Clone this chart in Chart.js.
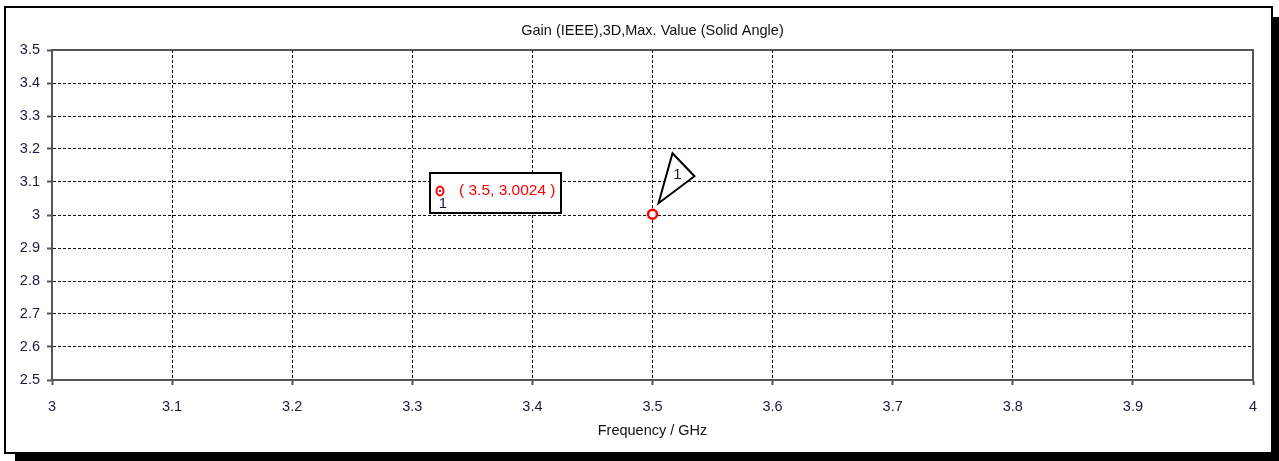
<!DOCTYPE html>
<html>
<head>
<meta charset="utf-8">
<script src="https://cdn.jsdelivr.net/npm/chart.js@4/dist/chart.umd.min.js"></script>
<style>
html,body{margin:0;padding:0;background:#fff;overflow:hidden;}
#wrap{position:absolute;left:0;top:0;width:1279px;height:461px;}
</style>
</head>
<body>
<div id="wrap"><canvas id="c" width="1279" height="461"></canvas></div>
<script>
const chartTitle = 'Gain (IEEE),3D,Max. Value (Solid Angle)';
const xAxisTitle = 'Frequency / GHz';
const frequencies = [3.5];
const gainValues = [3.0024];
const markerLabels = ['1'];
const xTicks = [3, 3.1, 3.2, 3.3, 3.4, 3.5, 3.6, 3.7, 3.8, 3.9, 4];
const yTicks = [2.5, 2.6, 2.7, 2.8, 2.9, 3, 3.1, 3.2, 3.3, 3.4, 3.5];

const FONT = 'Liberation Sans';
const points = frequencies.map((f, i) => ({x: f, y: gainValues[i]}));

const framePlugin = {
  id: 'frame',
  beforeDraw(chart) {
    const ctx = chart.ctx;
    ctx.save();
    ctx.fillStyle = '#fff';
    ctx.fillRect(0, 0, chart.width, chart.height);
    // shadow
    ctx.fillStyle = '#000';
    ctx.fillRect(1273, 17, 6, 444);
    ctx.fillRect(15, 454, 1264, 7);
    // frame
    ctx.strokeStyle = '#000';
    ctx.lineWidth = 2;
    ctx.strokeRect(5, 7, 1267, 446);
    ctx.restore();
  },
  beforeDatasetsDraw(chart) {
    const {ctx, chartArea: a} = chart;
    ctx.save();
    ctx.strokeStyle = '#555';
    ctx.lineWidth = 2;
    ctx.beginPath();
    ctx.moveTo(a.left, a.top); ctx.lineTo(a.right, a.top); ctx.lineTo(a.right, a.bottom);
    ctx.stroke();
    ctx.restore();
  },
  afterDatasetsDraw(chart) {
    const {ctx} = chart;
    const xs = chart.scales.x, ys = chart.scales.y;
    ctx.save();
    points.forEach((p, i) => {
      const px = xs.getPixelForValue(p.x);
      const py = ys.getPixelForValue(p.y);
      // triangle marker
      ctx.strokeStyle = '#000';
      ctx.lineWidth = 2;
      ctx.fillStyle = '#fff';
      ctx.beginPath();
      ctx.moveTo(px + 6, py - 11);
      ctx.lineTo(px + 20, py - 61);
      ctx.lineTo(px + 42, py - 38);
      ctx.closePath();
      ctx.fill();
      ctx.stroke();
      ctx.fillStyle = '#1a1a40';
      ctx.font = '15px "' + FONT + '"';
      ctx.textAlign = 'center';
      ctx.textBaseline = 'middle';
      ctx.fillText(markerLabels[i], px + 25, py - 39);
      // label box
      const bx = 430, by = 173, bw = 131, bh = 40;
      ctx.fillStyle = '#fff';
      ctx.fillRect(bx, by, bw, bh);
      ctx.lineWidth = 2;
      ctx.strokeStyle = '#000';
      ctx.strokeRect(bx, by, bw, bh);
      // small marker
      ctx.strokeStyle = '#f00';
      ctx.lineWidth = 2;
      ctx.beginPath();
      ctx.ellipse(bx + 10, by + 18, 3.5, 4.5, 0, 0, Math.PI * 2);
      ctx.stroke();
      ctx.fillStyle = '#f00';
      ctx.fillRect(bx + 9, by + 17, 2, 2);
      ctx.fillStyle = '#1a1a40';
      ctx.font = '15px "' + FONT + '"';
      ctx.fillText(markerLabels[i], bx + 13, by + 31);
      ctx.fillStyle = '#f00';
      ctx.textAlign = 'left';
      ctx.font = '15.5px "' + FONT + '"';
      ctx.fillText('( ' + p.x + ', ' + p.y.toFixed(4) + ' )', bx + 29, by + 18);
    });
    ctx.restore();
  }
};

new Chart(document.getElementById('c'), {
  type: 'scatter',
  data: {
    datasets: [{
      data: points,
      pointStyle: 'circle',
      pointRadius: 4.5,
      pointBorderWidth: 2.5,
      pointBorderColor: '#f00',
      pointBackgroundColor: '#fff'
    }, {
      data: points,
      pointStyle: 'circle',
      pointRadius: 1.3,
      pointBorderWidth: 0,
      pointBackgroundColor: '#f00'
    }]
  },
  options: {
    responsive: false,
    animation: false,
    devicePixelRatio: 1,
    layout: {padding: {left: 0, right: 26, top: 0, bottom: 0}},
    plugins: {
      legend: {display: false},
      tooltip: {enabled: false},
      title: {
        display: true,
        fullSize: false,
        text: chartTitle,
        color: '#111',
        font: {family: FONT, size: 14.5, weight: 'normal', lineHeight: 1.2},
        padding: {top: 22, bottom: 10.6}
      }
    },
    scales: {
      x: {
        type: 'linear',
        min: 3, max: 4,
        afterBuildTicks: s => { s.ticks = xTicks.map(v => ({value: v})); },
        afterFit: s => { s.height = 81; },
        ticks: {
          color: '#1a1a40',
          font: {family: FONT, size: 14.5},
          padding: 13,
          maxRotation: 0,
          autoSkip: false,
          callback: v => String(Math.round(v * 10) / 10)
        },
        grid: {color: '#111', lineWidth: 1, tickLength: 5, tickColor: '#555', tickWidth: 2},
        border: {display: true, color: '#555', width: 2, dash: [3, 2]},
        title: {
          display: true, text: xAxisTitle, color: '#111',
          font: {family: FONT, size: 14.5}, padding: {top: 4, bottom: 21}
        }
      },
      y: {
        type: 'linear',
        min: 2.5, max: 3.5,
        afterBuildTicks: s => { s.ticks = yTicks.map(v => ({value: v})); },
        afterFit: s => { s.width = 52; },
        ticks: {
          color: '#1a1a40',
          font: {family: FONT, size: 14.5},
          padding: 7,
          autoSkip: false,
          callback: v => String(Math.round(v * 10) / 10)
        },
        grid: {color: '#111', lineWidth: 1, tickLength: 5, tickColor: '#555', tickWidth: 2},
        border: {display: true, color: '#555', width: 2, dash: [3, 2]}
      }
    }
  },
  plugins: [framePlugin]
});
</script>
</body>
</html>
